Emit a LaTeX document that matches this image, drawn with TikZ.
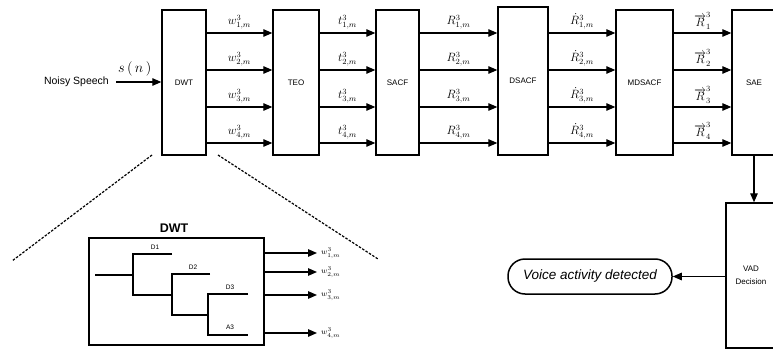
\documentclass[tikz,border=0pt]{standalone}
\usepackage{fontspec}
\setsansfont{Liberation Sans}
\usetikzlibrary{arrows.meta,calc}
\begin{document}
\begin{tikzpicture}[x=1pt,y=-1pt,
  box/.style={draw,line width=1.4pt,minimum height=145pt,inner sep=0pt,
    font=\sffamily\fontsize{8}{9}\selectfont},
  arr/.style={-{Triangle[length=9pt,width=7.5pt]},line width=1.3pt},
  lab/.style={font=\fontsize{12}{14}\selectfont,inner sep=0pt},
  slab/.style={font=\fontsize{8.5}{10}\selectfont,inner sep=0pt,anchor=west},
  tree/.style={line width=1.6pt},
  tlab/.style={font=\sffamily\fontsize{6.5}{7}\selectfont,inner sep=0pt},
  zoomline/.style={dashed,dash pattern=on 2.5pt off 1.5pt,line width=1.2pt}]
\useasboundingbox (0,0) rectangle (773,350);
\clip (0,0) rectangle (773,350);
% main boxes
\node[box,minimum width=44pt] (dwt) at (184,82.5) {DWT};
\node[box,minimum width=46pt] (teo) at (296,82.5) {TEO};
\node[box,minimum width=43pt] (sacf) at (397.5,82.5) {SACF};
\node[box,minimum width=50pt,minimum height=148pt] (dsacf) at (523,81) {DSACF};
\node[box,minimum width=57pt] (mdsacf) at (644.5,82.5) {MDSACF};
\node[box,minimum width=44pt] (sae) at (754,82.5) {SAE};
\node[box,minimum width=50pt,align=center] (vad) at (751,275.5) {VAD\\[4pt]Decision};
\node[draw,line width=1.5pt,rounded corners=17pt,minimum width=164pt,minimum height=35pt,
  font=\sffamily\itshape\fontsize{13.5}{15}\selectfont,inner sep=0pt] (term) at (590,276.5) {Voice activity detected};
% input
\node[anchor=east,inner sep=0pt,font=\sffamily\fontsize{10.5}{12}\selectfont] (noisy) at (109,82) {Noisy Speech};
\draw[arr] ([xshift=7pt]noisy.east) -- (dwt.west |- noisy.east)
  node[midway,above=5pt,font=\fontsize{14}{16}\selectfont,inner sep=0pt,xshift=-4pt] {$s\,(\,n\,)$};
% connectors between boxes
\foreach \i/\y in {1/33,2/70,3/107,4/143}{
  \draw[arr] (dwt.east |- {0,\y}) -- (teo.west |- {0,\y})
    node[midway,lab,above=3pt] {$w_{\i,m}^{3}$};
  \draw[arr] (teo.east |- {0,\y}) -- (sacf.west |- {0,\y})
    node[midway,lab,above=3pt] {$t_{\i,m}^{3}$};
  \draw[arr] (sacf.east |- {0,\y}) -- (dsacf.west |- {0,\y})
    node[midway,lab,above=3pt] {$R_{\i,m}^{3}$};
  \draw[arr] (dsacf.east |- {0,\y}) -- (mdsacf.west |- {0,\y})
    node[midway,lab,above=3pt] {$\dot{R}_{\i,m}^{3}$};
  \draw[arr] (mdsacf.east |- {0,\y}) -- (sae.west |- {0,\y})
    node[midway,lab,above=3pt] {$\overrightarrow{R}_{\i}^{3}$};
}
\draw[arr] (sae.south) -- (vad.north -| sae.south);
\draw[arr] (vad.west |- term.east) -- (term.east);
% zoom lines
\coordinate (zl1) at (152,155);
\coordinate (zl2) at (12,261);
\coordinate (zr1) at (218,155);
\coordinate (zr2) at (378,259);
\draw[zoomline] (zl1) -- (zl2);
\draw[zoomline] (zr1) -- (zr2);
% inner DWT
\node[draw,line width=1.5pt,minimum width=175pt,minimum height=107pt,inner sep=0pt] (idwt) at (176.5,291.5) {};
\node[font=\sffamily\bfseries\fontsize{12.5}{14}\selectfont,inner sep=0pt] (idwtl) at (174,228) {DWT};
\draw[tree] (95,275) -- (133,275);
\draw[tree] (172,254) -- (133,254) -- (133,295) -- (172,295);
\draw[tree] (210,274) -- (172,274) -- (172,315) -- (208,315);
\draw[tree] (248,294) -- (208,294) -- (208,335) -- (248,335);
\node[tlab] (d1) at (155,247) {D1};
\node[tlab] (d2) at (193,267) {D2};
\node[tlab] (d3) at (230,287) {D3};
\node[tlab] (a3) at (230,327) {A3};
\foreach \i/\y in {1/253,2/272,3/295,4/333}{
  \coordinate (o\i) at (317,\y);
  \draw[arr] (idwt.east |- o\i) -- (o\i);
  \node[slab] at ([xshift=4pt]o\i) {$w_{\i,m}^{3}$};
}
\end{tikzpicture}
\end{document}
